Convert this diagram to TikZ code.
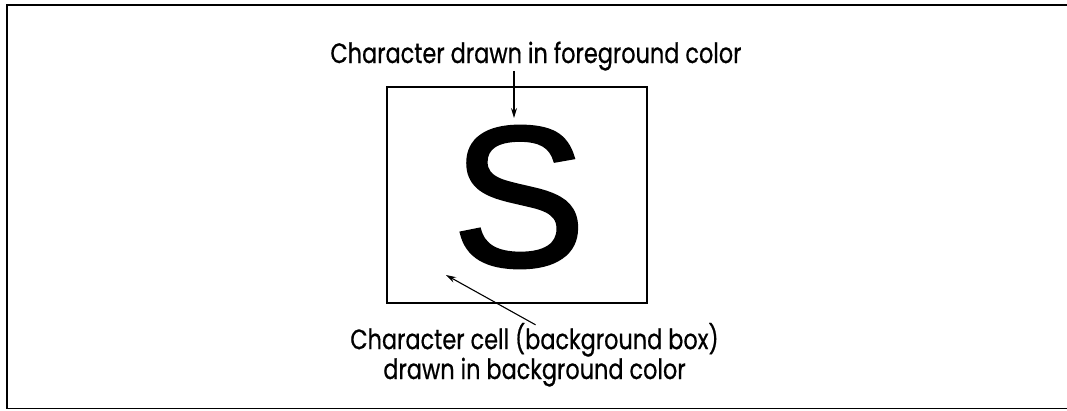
\documentclass[tikz,border=0pt]{standalone}
\usepackage{fontspec}
\setmainfont{Poppins}[FakeStretch=0.8,FakeBold=0.6]
\newfontfamily\glyphfont{Liberation Sans}[FakeBold=1.6]
\usetikzlibrary{arrows.meta,positioning}

\begin{document}
\begin{tikzpicture}[
            x=1pt,y=-1pt,
            frame/.style={line width=1.8pt},
            cellbox/.style={
                draw,
                line width=1.2pt,
                minimum width=260pt,
                minimum height=216pt,
                inner sep=0pt
            },
            caption/.style={
                align=center,
                inner sep=0pt,
                font=\fontsize{28}{26}\selectfont
            },
            glyph/.style={inner sep=0pt,font=\glyphfont\fontsize{200}{200}\selectfont},
            arr/.style={-{Stealth[length=10pt,width=6pt]},line width=1.1pt}
        ]
            \useasboundingbox (0,0) rectangle (1067,410);
            \draw[frame] (1067,5) -- (7,5) -- (7,408.5) -- (1067,408.5);

            \node[cellbox] (cell) at (517,195) {};
            \node[glyph] (letter) at (519,197) {S};

            \node[caption,anchor=base] (fglabel) at (536,63)
            {Character drawn in foreground color};
            \node[caption,anchor=base] (bglabel) at (534.5,379)
            {Character cell (background box)\\drawn in background color};

            \coordinate (bgpoint) at (446,275);

            \draw[arr] (fglabel.south -| 514,0) -- ([yshift=8pt]letter.north -| 514,0);
            \draw[arr] ([xshift=1pt,yshift=-2pt]bglabel.north) -- (bgpoint);
        \end{tikzpicture}
\end{document}
